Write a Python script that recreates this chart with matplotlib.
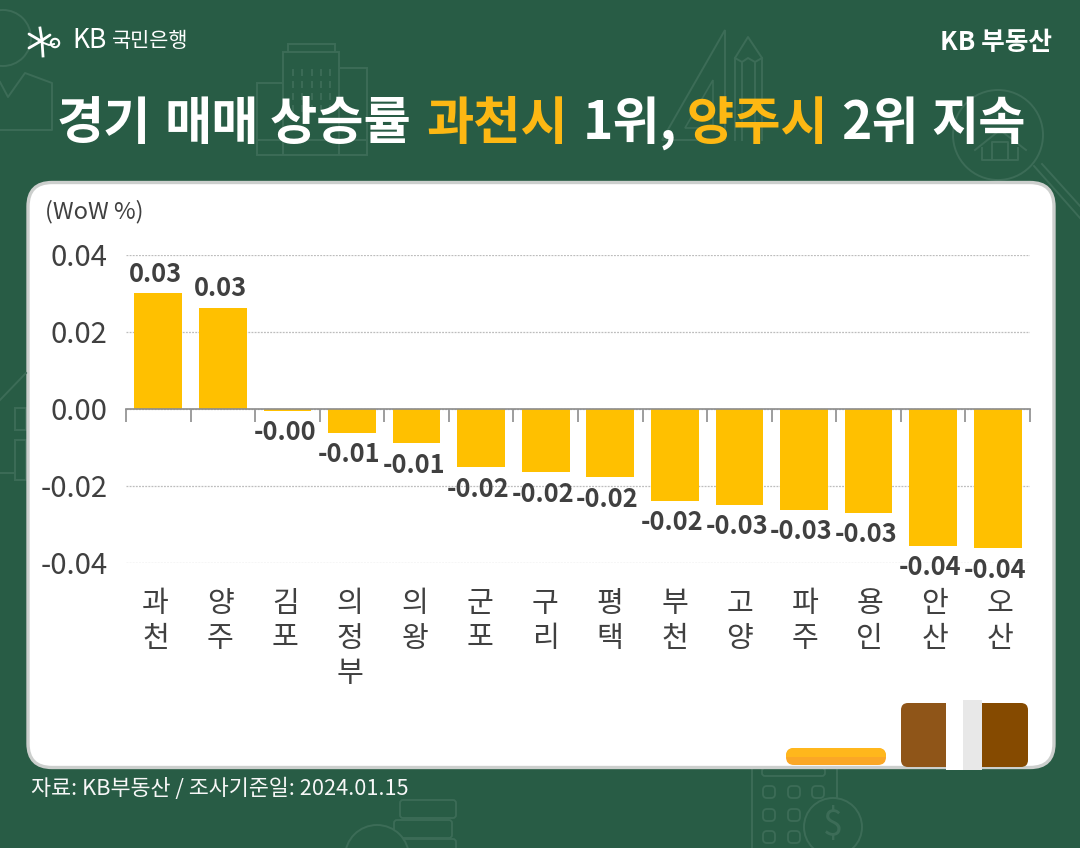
import matplotlib
matplotlib.use("Agg")
import matplotlib.pyplot as plt
from matplotlib.patches import FancyBboxPatch, Rectangle, Circle, Polygon
from matplotlib.transforms import blended_transform_factory

plt.rcParams['font.family'] = ['Noto Sans CJK KR', 'DejaVu Sans']

cities = ['과천', '양주', '김포', '의정부', '의왕', '군포', '구리', '평택', '부천', '고양', '파주', '용인', '안산', '오산']
wow = [0.0299, 0.0262, -0.0006, -0.0063, -0.0090, -0.0152, -0.0165, -0.0178, -0.0238, -0.0250, -0.0262, -0.0270, -0.0355, -0.0362]
yticks = [0.04, 0.02, 0.00, -0.02, -0.04]
title_words = ['경기', '매매', '상승률', '과천시', '1위,', '양주시', '2위', '지속']
title_colors = ['white', 'white', 'white', '#FDB813', 'white', '#FDB813', 'white', 'white']
title_x = [57, 164, 270, 426, 583, 687, 841, 931]

W, H = 1080, 848
BG = '#285C45'
DECO = '#3C6C57'
TEXT = '#404040'
BAR = '#FFC000'

fig = plt.figure(figsize=(W / 100, H / 100), dpi=100, facecolor=BG)

# pixel canvas for background, card and header
bg = fig.add_axes([0, 0, 1, 1])
bg.set_xlim(0, W)
bg.set_ylim(H, 0)
bg.axis('off')


def box(x, y, w, h):
    bg.add_patch(Rectangle((x, y), w, h, fill=False, ec=DECO, lw=1.4))


def rbox(x, y, w, h, r=3):
    bg.add_patch(FancyBboxPatch((x, y), w, h, boxstyle=f'round,pad=0,rounding_size={r}', fill=False, ec=DECO, lw=1.3))


def ring(x, y, r):
    bg.add_patch(Circle((x, y), r, fill=False, ec=DECO, lw=1.4))


def path(xs, ys):
    bg.plot(xs, ys, color=DECO, lw=1.4, solid_joinstyle='round')


# faint background drawings, top left
ring(3, 38, 28)
path([0, 8, 25, 52, 52, 0], [82, 97, 73, 83, 130, 130])
box(283, 52, 56, 103)
box(288, 44, 47, 8)
box(339, 68, 28, 87)
box(257, 83, 26, 72)
path([257, 367], [140, 140])
for wx in (293, 302, 312, 321, 330):
    for wy in (70, 82, 94, 106):
        path([wx, wx], [wy, wy + 5])
# ruler and pencil
bg.add_patch(Polygon([(725, 30), (725, 140), (662, 140)], fill=False, ec=DECO, lw=1.4))
bg.add_patch(Polygon([(713, 80), (713, 128), (685, 128)], fill=False, ec=DECO, lw=1.2))
path([735, 735, 748, 762, 762], [140, 58, 37, 58, 140])
path([735, 742, 748, 755, 762], [58, 62, 58, 62, 58])
path([742, 742], [62, 140])
path([755, 755], [62, 140])
# magnifier with house
ring(998, 135, 45)
path([1034, 1080], [166, 218])
path([1042, 1080], [164, 206])
path([975, 1000, 1026], [150, 130, 150])
path([982, 982, 1018, 1018], [148, 160, 160, 148])
path([992, 992, 1008, 1008], [160, 142, 142, 160])
# left side house
path([0, 26], [400, 373])
box(15, 408, 11, 22)
box(15, 440, 11, 40)
path([0, 15], [473, 473])
# calculator and coins at the bottom
box(752, 768, 85, 90)
rbox(762, 768, 63, 8)
for kx, ky in [(769, 792), (794, 792), (818, 792), (769, 815), (794, 815), (769, 837), (794, 837)]:
    rbox(kx - 6, ky - 6, 12, 12, 4)
bg.add_patch(Circle((833, 827), 29, fc=BG, ec=DECO, lw=1.4))
bg.text(833, 826, '$', color=DECO, fontsize=26, ha='center', va='center', fontweight='light')
rbox(400, 800, 56, 18)
rbox(394, 820, 58, 18)
rbox(400, 839, 56, 14)
bg.add_patch(Circle((377, 857), 32, fc=BG, ec=DECO, lw=1.4))

# white card
bg.add_patch(FancyBboxPatch((28, 182.5), 1026, 585, boxstyle='round,pad=0,rounding_size=24',
                            fc='white', ec='#CCCFCD', lw=2.4))

# pen and book shapes at the bottom right of the card
pill = FancyBboxPatch((786, 748), 100, 17, boxstyle='round,pad=0,rounding_size=8', fc='#FBA726', ec='none')
bg.add_patch(pill)
pill_top = Rectangle((786, 748), 100, 9, fc='#FFB71C', ec='none')
bg.add_patch(pill_top)
pill_top.set_clip_path(pill)
bg.add_patch(FancyBboxPatch((901, 703), 60, 64, boxstyle='round,pad=0,rounding_size=7', fc='#8F5518', ec='none'))
bg.add_patch(Rectangle((946, 700), 17, 70, fc='white', ec='none'))
bg.add_patch(FancyBboxPatch((968, 703), 60, 64, boxstyle='round,pad=0,rounding_size=7', fc='#854A00', ec='none'))
bg.add_patch(Rectangle((963, 700), 19, 69.5, fc='#E8E8E8', ec='none'))

# header
cx, cy = 41, 41
for dx, dy in [(-12, -7), (-12, 7), (9, -6)]:
    bg.plot([cx, cx + dx], [cy, cy + dy], color='white', lw=2, solid_capstyle='round')
bg.plot([cx - 1, cx + 1, cx + 2], [cy - 13, cy, cy + 15], color='white', lw=2)
bg.plot([cx, cx + 8, cx + 13], [cy + 1, cy + 4, cy + 3], color='white', lw=1.4)
bg.add_patch(Circle((cx + 14, cy + 2), 4.2, fill=False, ec='white', lw=1.5))
bg.text(72, 41, 'KB', color='white', fontsize=19, va='center', ha='left', fontweight='light')
bg.text(188, 41, '국민은행', color='white', fontsize=15, va='center', ha='right', fontweight='medium')
bg.text(1052, 42, 'KB 부동산', color='white', fontsize=18.5, va='center', ha='right', fontweight='bold')

# title, one word at a time because of the colours
for word, col, x in zip(title_words, title_colors, title_x):
    bg.text(x, 123, word, color=col, fontsize=37, fontweight='bold', va='center', ha='left')

bg.text(45, 212, '(WoW %)', color=TEXT, fontsize=17, va='center', ha='left')
bg.text(31, 789, '자료: KB부동산 / 조사기준일: 2024.01.15', color='#F7F7F7', fontsize=15.7, va='center', ha='left',
        fontweight='medium')

# chart
ax = fig.add_axes([126 / W, 1 - 563 / H, (1030 - 126) / W, (563 - 254.5) / H])
ax.patch.set_alpha(0)
positions = range(len(cities))
ax.bar(positions, wow, width=0.74, color=BAR, zorder=2)
ax.set_xlim(-0.5, len(cities) - 0.5)
ax.set_ylim(-0.04, 0.04)
for s in ax.spines.values():
    s.set_visible(False)
ax.spines['bottom'].set_position(('data', 0))
ax.spines['bottom'].set_visible(True)
ax.spines['bottom'].set_color('#8C8C8C')
ax.spines['bottom'].set_linewidth(1.2)
ax.set_xticks([i - 0.5 for i in range(len(cities) + 1)])
ax.set_xticklabels([])
ax.tick_params(axis='x', direction='out', length=9, width=1.2, color='#8C8C8C')
ax.set_yticks(yticks)
ax.set_yticklabels([f'{v:.2f}' for v in yticks])
ax.tick_params(axis='y', length=0, pad=13.5, labelsize=21, labelcolor=TEXT)
ax.grid(axis='y', color='#BDBDBD', lw=0.9, ls=(0, (1.5, 1)), zorder=0)
ax.set_axisbelow(True)

for i, v in enumerate(wow):
    ax.annotate(f'{v:.2f}', (i, v), xytext=(-2, 4 if v > 0 else -6), textcoords='offset points',
                ha='center', va='bottom' if v > 0 else 'top', fontsize=18.3, fontweight='bold',
                color=TEXT, zorder=3, annotation_clip=False)

# city names run downward, one syllable per line
tr = blended_transform_factory(ax.transData, ax.transAxes)
for i, name in enumerate(cities):
    ax.annotate('\n'.join(name), (i, 0), xycoords=tr, xytext=(-2 + 0.27 * i, -19), textcoords='offset points',
                ha='center', va='top', fontsize=21, color=TEXT, linespacing=1.2, annotation_clip=False)

fig.savefig('out.png', dpi=100, facecolor=BG)
